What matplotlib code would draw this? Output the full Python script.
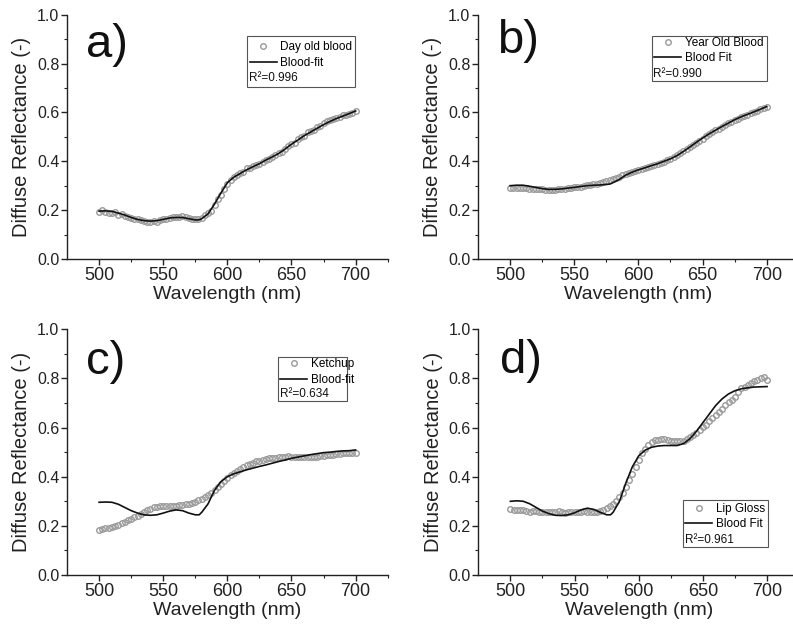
import numpy as np
import matplotlib
matplotlib.use("Agg")
import matplotlib.pyplot as plt
from matplotlib.patches import Rectangle

plt.rcParams['font.family'] = ['Liberation Sans', 'DejaVu Sans']

# ---------------- data ----------------
wl_meas = np.arange(500, 700.1, 2.5)          # measured wavelengths (nm)
wl_fit = np.array([500, 505, 510, 515, 520, 525, 530, 535, 540, 545, 550, 555,
                   560, 565, 570, 575, 578, 580, 585, 590, 595, 600, 605, 610,
                   615, 620, 625, 630, 635, 640, 645, 650, 655, 660, 665, 670,
                   675, 680, 685, 690, 695, 700])

# a) Day old blood
meas_a = [0.192, 0.200, 0.192, 0.188, 0.190, 0.192, 0.182, 0.183, 0.178, 0.172,
          0.168, 0.165, 0.162, 0.158, 0.155, 0.150, 0.150, 0.155, 0.152, 0.160,
          0.163, 0.165, 0.168, 0.170, 0.172, 0.172, 0.175, 0.170, 0.168, 0.165,
          0.163, 0.162, 0.168, 0.180, 0.188, 0.198, 0.220, 0.245, 0.262, 0.285,
          0.305, 0.322, 0.335, 0.345, 0.352, 0.355, 0.372, 0.372, 0.380, 0.385,
          0.390, 0.398, 0.405, 0.410, 0.418, 0.425, 0.432, 0.440, 0.452, 0.462,
          0.470, 0.475, 0.490, 0.500, 0.505, 0.518, 0.522, 0.528, 0.540, 0.545,
          0.555, 0.565, 0.568, 0.572, 0.578, 0.582, 0.588, 0.590, 0.595, 0.598,
          0.605]
fit_a = [0.196, 0.197, 0.195, 0.188, 0.180, 0.170, 0.162, 0.157, 0.155, 0.157,
         0.162, 0.168, 0.170, 0.170, 0.165, 0.160, 0.160, 0.165, 0.185, 0.225,
         0.270, 0.312, 0.335, 0.350, 0.365, 0.378, 0.390, 0.405, 0.418, 0.432,
         0.450, 0.470, 0.487, 0.505, 0.520, 0.535, 0.550, 0.563, 0.575, 0.585,
         0.595, 0.606]

# b) Year old blood
meas_b = [0.292, 0.291, 0.292, 0.292, 0.291, 0.290, 0.288, 0.288, 0.287, 0.285,
          0.285, 0.284, 0.283, 0.282, 0.284, 0.285, 0.286, 0.288, 0.290, 0.292,
          0.293, 0.295, 0.296, 0.300, 0.302, 0.302, 0.305, 0.307, 0.310, 0.315,
          0.318, 0.322, 0.327, 0.332, 0.336, 0.342, 0.347, 0.352, 0.356, 0.360,
          0.365, 0.368, 0.373, 0.377, 0.382, 0.386, 0.390, 0.394, 0.399, 0.404,
          0.410, 0.418, 0.425, 0.435, 0.443, 0.450, 0.457, 0.466, 0.475, 0.485,
          0.493, 0.503, 0.510, 0.518, 0.526, 0.533, 0.540, 0.547, 0.555, 0.562,
          0.568, 0.575, 0.580, 0.585, 0.591, 0.596, 0.600, 0.606, 0.612, 0.618,
          0.622]
fit_b = [0.300, 0.302, 0.302, 0.298, 0.293, 0.288, 0.285, 0.285, 0.287, 0.290,
         0.293, 0.297, 0.300, 0.302, 0.303, 0.305, 0.307, 0.312, 0.325, 0.343,
         0.355, 0.365, 0.373, 0.382, 0.390, 0.400, 0.410, 0.423, 0.440, 0.458,
         0.477, 0.495, 0.512, 0.527, 0.542, 0.556, 0.570, 0.582, 0.592, 0.602,
         0.613, 0.624]

# c) Ketchup
meas_c = [0.185, 0.186, 0.190, 0.193, 0.197, 0.200, 0.205, 0.210, 0.215, 0.222,
          0.228, 0.235, 0.242, 0.250, 0.258, 0.265, 0.270, 0.275, 0.278, 0.280,
          0.282, 0.280, 0.280, 0.282, 0.282, 0.283, 0.285, 0.287, 0.290, 0.293,
          0.298, 0.305, 0.310, 0.318, 0.325, 0.335, 0.345, 0.358, 0.370, 0.383,
          0.395, 0.405, 0.415, 0.425, 0.432, 0.440, 0.446, 0.452, 0.457, 0.462,
          0.466, 0.470, 0.473, 0.476, 0.477, 0.478, 0.480, 0.481, 0.482, 0.483,
          0.482, 0.482, 0.481, 0.481, 0.482, 0.481, 0.480, 0.480, 0.481, 0.483,
          0.485, 0.487, 0.488, 0.490, 0.491, 0.493, 0.495, 0.496, 0.497, 0.496,
          0.495]
fit_c = [0.296, 0.297, 0.296, 0.288, 0.275, 0.262, 0.252, 0.245, 0.243, 0.245,
         0.252, 0.260, 0.265, 0.262, 0.252, 0.245, 0.245, 0.255, 0.290, 0.345,
         0.380, 0.400, 0.412, 0.420, 0.428, 0.435, 0.442, 0.448, 0.455, 0.462,
         0.468, 0.475, 0.480, 0.485, 0.490, 0.494, 0.498, 0.500, 0.503, 0.505,
         0.506, 0.509]

# d) Lip gloss
meas_d = [0.268, 0.265, 0.265, 0.264, 0.264, 0.262, 0.258, 0.260, 0.260, 0.258,
          0.258, 0.256, 0.258, 0.256, 0.258, 0.262, 0.257, 0.252, 0.255, 0.257,
          0.256, 0.257, 0.258, 0.262, 0.257, 0.258, 0.256, 0.258, 0.262, 0.265,
          0.272, 0.280, 0.290, 0.302, 0.318, 0.335, 0.360, 0.385, 0.410, 0.440,
          0.468, 0.495, 0.512, 0.528, 0.540, 0.548, 0.550, 0.555, 0.552, 0.548,
          0.547, 0.546, 0.545, 0.544, 0.545, 0.552, 0.560, 0.568, 0.580, 0.592,
          0.603, 0.612, 0.625, 0.638, 0.650, 0.662, 0.675, 0.690, 0.703, 0.712,
          0.725, 0.745, 0.762, 0.765, 0.772, 0.780, 0.790, 0.792, 0.800, 0.805,
          0.795]
fit_d = [0.300, 0.302, 0.300, 0.290, 0.275, 0.260, 0.250, 0.243, 0.242, 0.245,
         0.253, 0.265, 0.272, 0.267, 0.255, 0.245, 0.245, 0.255, 0.300, 0.375,
         0.440, 0.485, 0.508, 0.520, 0.525, 0.527, 0.527, 0.527, 0.535, 0.555,
         0.585, 0.620, 0.655, 0.690, 0.717, 0.737, 0.750, 0.758, 0.762, 0.765,
         0.766, 0.767]

panel_letters = ["a)", "b)", "c)", "d)"]
meas_labels = ["Day old blood", "Year Old Blood", "Ketchup", "Lip Gloss"]
fit_labels = ["Blood-fit", "Blood Fit", "Blood-fit", "Blood Fit"]
r2_values = ["0.996", "0.990", "0.634", "0.961"]
meas_series = [meas_a, meas_b, meas_c, meas_d]
fit_series = [fit_a, fit_b, fit_c, fit_d]

# ---------------- layout ----------------
fig = plt.figure(figsize=(7.93, 6.25), dpi=100)
axes_rects = [
    [0.0845, 0.5856, 0.4044, 0.3909],
    [0.6028, 0.5856, 0.4045, 0.3909],
    [0.0845, 0.0800, 0.4044, 0.3931],
    [0.6032, 0.0800, 0.4045, 0.3931],
]
letter_pos = [(0.059, 0.827), (0.058, 0.842), (0.059, 0.817), (0.068, 0.821)]
# legend boxes: (x0, x1, y_bottom, y_top) in axes fraction, R2 row y,
# legend top anchor
boxes = [
    (0.561, 0.898, 0.706, 0.913, 0.741, 0.901),
    (0.541, 0.900, 0.729, 0.913, 0.757, 0.920),
    (0.657, 0.872, 0.709, 0.888, 0.735, 0.893),
    (0.637, 0.902, 0.115, 0.305, 0.142, 0.305),
]

for i in range(4):
    ax = fig.add_axes(axes_rects[i])
    pts, = ax.plot(wl_meas, meas_series[i], linestyle='none', marker='o',
                   markersize=4.0, markerfacecolor='none',
                   markeredgecolor='#9a9a9a', markeredgewidth=1.0)
    fit, = ax.plot(wl_fit, fit_series[i], color='#111111', linewidth=1.2)

    ax.set_xlim(475, 725)
    ax.set_ylim(0.0, 1.0)
    ax.set_xticks([500, 550, 600, 650, 700])
    ax.set_xticks([525, 575, 625, 675, 725], minor=True)
    ax.set_yticks([0.0, 0.2, 0.4, 0.6, 0.8, 1.0])
    ax.set_yticks([0.1, 0.3, 0.5, 0.7, 0.9], minor=True)
    ax.set_yticklabels(["0.0", "0.2", "0.4", "0.6", "0.8", "1.0"])
    for s in ['top', 'right']:
        ax.spines[s].set_visible(False)
    for s in ['left', 'bottom']:
        ax.spines[s].set_linewidth(1.0)
        ax.spines[s].set_color('#222222')
    ax.tick_params(axis='both', which='major', direction='out', length=4,
                   width=1.0, color='#222222')
    ax.tick_params(axis='both', which='minor', direction='out', length=2.5,
                   width=0.8, color='#222222')
    ax.tick_params(axis='x', which='major', labelsize=13, pad=2,
                   labelcolor='#222222')
    ax.tick_params(axis='y', which='major', labelsize=11.5, pad=1.5,
                   labelcolor='#222222')
    ax.set_xlabel("Wavelength (nm)", fontsize=14, labelpad=1, color='#222222')
    ax.set_ylabel("Diffuse Reflectance (-)", fontsize=14.5, labelpad=4,
                  color='#222222')

    lx, ly = letter_pos[i]
    ax.text(lx, ly, panel_letters[i], transform=ax.transAxes, fontsize=34,
            ha='left', va='baseline', color='#111111')

    x0, x1, yb, yt, yr, ya = boxes[i]
    leg = ax.legend([pts, fit], [meas_labels[i], fit_labels[i]],
                    loc='upper left', bbox_to_anchor=(x0, ya),
                    frameon=False, fontsize=8.5, handlelength=2.3,
                    handletextpad=0.3, borderpad=0.22, labelspacing=0.31,
                    borderaxespad=0.0, numpoints=1)
    ax.text(x0 + 0.006, yr, "R\u00b2=" + r2_values[i], transform=ax.transAxes,
            fontsize=8.5, ha='left', va='center', color='#111111')
    ax.add_patch(Rectangle((x0, yb), x1 - x0, yt - yb, transform=ax.transAxes,
                           fill=False, edgecolor='#555555', linewidth=0.8,
                           clip_on=False))

fig.savefig("out.png", dpi=100)
